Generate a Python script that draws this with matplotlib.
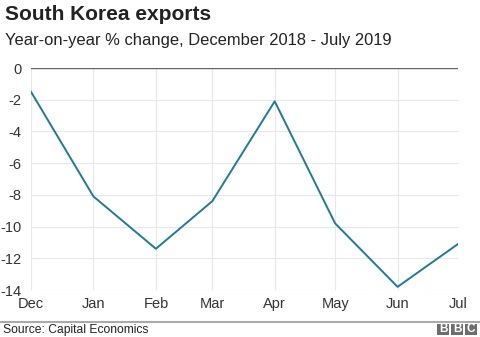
import matplotlib.pyplot as plt
import matplotlib.patches as mpatches
from datetime import date

plt.rcParams['font.family'] = ['Liberation Sans', 'DejaVu Sans']

months = [date(2018, 12, 1), date(2019, 1, 1), date(2019, 2, 1), date(2019, 3, 1),
          date(2019, 4, 1), date(2019, 5, 1), date(2019, 6, 1), date(2019, 7, 1)]
month_labels = ["Dec", "Jan", "Feb", "Mar", "Apr", "May", "Jun", "Jul"]
exports_change = [-1.5, -8.1, -11.4, -8.4, -2.1, -9.8, -13.8, -11.1]
y_ticks = [0, -2, -4, -6, -8, -10, -12, -14]

W, H = 480, 337
fig = plt.figure(figsize=(4.8, 3.37), dpi=100)
ax = fig.add_axes([31/W, 1-290/H, (458-31)/W, (290-68)/H])

ax.plot(months, exports_change, color='#1d7b96', lw=1.4, zorder=3)

ax.set_xlim(months[0], months[-1])
ax.set_ylim(-14, 0)
ax.set_xticks(months)
ax.set_xticklabels(month_labels)
ax.set_yticks(y_ticks)
ax.set_yticklabels([str(v) for v in y_ticks])

ax.grid(True, color='#e8e8e8', lw=0.8)
ax.axhline(0, color='#666666', lw=1.0, zorder=2)
for s in ax.spines.values():
    s.set_visible(False)
ax.tick_params(length=0, labelsize=10.5, colors='#333333')
ax.tick_params(axis='x', pad=5)
ax.tick_params(axis='y', pad=7)

fig.text(0.010, 1-14/H, "South Korea exports", fontsize=15, fontweight='bold',
         color='#222222', va='center', ha='left')
fig.text(0.010, 1-40/H, "Year-on-year % change, December 2018 - July 2019", fontsize=11.85,
         color='#222222', va='center', ha='left')

fig.add_artist(plt.Line2D([0, 1], [1-322/H, 1-322/H], color='#aaaaaa', lw=1.5))
fig.text(0.006, 1-330/H, "Source: Capital Economics", fontsize=8.7, color='#222222',
         va='center', ha='left')

# BBC logo blocks
for i, letter in enumerate("BBC"):
    x0 = 437 + i*14
    fig.add_artist(mpatches.Rectangle((x0/W, 1-335/H), 12/W, 11/H,
                                      transform=fig.transFigure, fc='#6e6e6e', ec='none'))
    fig.text((x0 + 6)/W, 1-329.5/H, letter, fontsize=8.5, fontweight='bold', color='white',
             ha='center', va='center')

fig.savefig("out.png", dpi=100)
